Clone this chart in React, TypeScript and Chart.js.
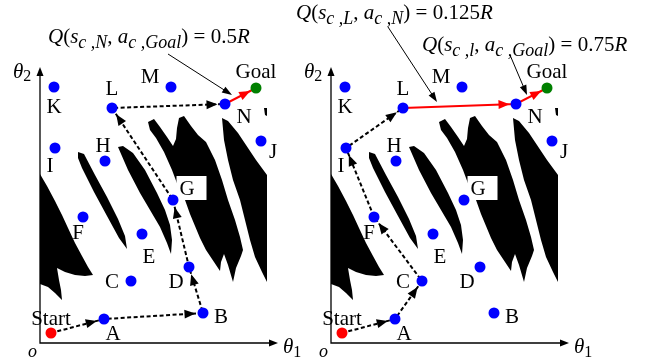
import { useEffect, useRef } from 'react';
import { Chart, registerables } from 'chart.js';

Chart.register(...registerables);

const SERIF = '"Liberation Serif", "Times New Roman", "DejaVu Serif", serif';

// Configuration-space nodes (θ1, θ2)
const nodeNames = ['Start', 'A', 'B', 'C', 'D', 'E', 'F', 'G', 'H', 'I', 'J', 'K', 'L', 'M', 'N', 'Goal'];
const nodeTheta1 = [5.5, 32, 81.5, 45.5, 74.5, 51, 21.5, 66.5, 32.5, 7.5, 110.5, 7, 36, 65.5, 92.5, 108];
const nodeTheta2 = [5, 12, 15, 31, 38, 54.5, 63, 71.5, 91, 97.5, 101, 128, 117.5, 128, 119.5, 127.5];

// Routes taken in each panel
const leftRoute = ['Start', 'A', 'B', 'D', 'G', 'L', 'N'];
const leftGreedy = ['N', 'Goal'];
const rightRoute = ['Start', 'A', 'C', 'F', 'I', 'L'];
const rightGreedy = ['L', 'N', 'Goal'];

// Obstacle regions in configuration space, as (θ1, θ2) outlines
const obstacleLeftBlade = [[0, 84.5], [3.5, 78.5], [7.5, 71], [11, 64], [14, 57.5], [17.5, 50], [21, 43.5], [24, 38], [26.5, 34], [22.5, 33.5], [17.5, 34], [12.5, 35.5], [8.5, 37.5], [9.5, 31.5], [10.5, 26.5], [11, 21.5], [7.5, 25], [4, 28], [0, 29.5]];
const obstacleThinBlade = [[19, 95.5], [22, 94.5], [27.5, 84], [33.5, 73], [39, 62], [42.5, 53.5], [43.5, 47], [39.5, 52.5], [33.5, 63.5], [27, 75.5], [21, 87.5], [19, 92.5]];
const obstacleMidBlade = [[39, 98], [41.5, 98.5], [46.5, 95], [52.5, 86.5], [58.5, 75], [62.5, 66.5], [65, 59], [66, 51.5], [65.5, 44.5], [63.5, 50], [60, 58], [55, 66.5], [50, 75], [44, 86.5]];
const obstacleBlob = [[54, 110.5], [57, 112], [60, 108], [63.5, 103], [66.5, 98.5], [68, 102], [68.5, 107.5], [69.5, 112.5], [72, 113.5], [75.5, 108.5], [79, 104], [83, 100.5], [85, 96.5], [87.5, 91.5], [91, 81.5], [94, 71.5], [97.5, 61.5], [100, 53], [101.5, 46.5], [100.5, 43.5], [98, 37.5], [96.5, 30.5], [94, 39], [92, 44.5], [90.5, 40.5], [90, 36], [87, 40.5], [83, 46.5], [80, 52.5], [77.5, 58.5], [75, 64.5], [72.5, 71.5], [69, 78.5], [66, 86.5], [62, 95.5], [58, 102.5], [55, 106.5]];
const obstacleRightBlade = [[91, 112.5], [94, 111], [99, 105], [103, 99], [108, 91.5], [113.5, 84], [113.5, 30.5], [111, 35.5], [107.5, 43], [105, 51.5], [102.5, 61.5], [100, 71.5], [96.5, 81.5], [94, 91.5], [92, 101.5]];
const obstacleEdgeNick = [[112, 117.5], [113.5, 117.5], [113.5, 113.5], [112.5, 114]];
const obstacles = [obstacleLeftBlade, obstacleThinBlade, obstacleMidBlade, obstacleBlob, obstacleRightBlade, obstacleEdgeNick];

// Q-value annotations (rich text runs: it = italic, sub = subscript)
const qLeftRuns = [
  { t: 'Q', it: true }, { t: '(' }, { t: 's', it: true }, { t: 'c ,N', it: true, sub: true },
  { t: ', ' }, { t: 'a', it: true }, { t: 'c ,Goal', it: true, sub: true }, { t: ') = 0.5' }, { t: 'R', it: true },
];
const qRightLRuns = [
  { t: 'Q', it: true }, { t: '(' }, { t: 's', it: true }, { t: 'c ,L', it: true, sub: true },
  { t: ', ' }, { t: 'a', it: true }, { t: 'c ,N', it: true, sub: true }, { t: ') = 0.125' }, { t: 'R', it: true },
];
const qRightNRuns = [
  { t: 'Q', it: true }, { t: '(' }, { t: 's', it: true }, { t: 'c ,l', it: true, sub: true },
  { t: ', ' }, { t: 'a', it: true }, { t: 'c ,Goal', it: true, sub: true }, { t: ') = 0.75' }, { t: 'R', it: true },
];

// Label placement relative to each node (pixels, text baseline)
const labelOffset: Record<string, [number, number]> = {
  Start: [0, -8], A: [9, 21], B: [18, 10], C: [-19, 7], D: [-13, 21], E: [7, 29], F: [-5, 22],
  G: [14, -5], H: [-2, -9], I: [-5, 24], J: [12, 17], K: [0, 26], L: [0, -13], M: [-21, -4],
  N: [19, 19], Goal: [0, -10],
};

const panels = [
  {
    left: 40,
    route: leftRoute,
    greedy: leftGreedy,
    notes: [{ runs: qLeftRuns, at: [4, 150], from: [64, 144.5], to: [96, 124] }],
  },
  {
    left: 331,
    route: rightRoute,
    greedy: rightGreedy,
    notes: [
      { runs: qRightLRuns, at: [-17.5, 162], from: [28.5, 158], to: [53, 120.5] },
      { runs: qRightNRuns, at: [45.5, 146], from: [89.5, 144], to: [98, 124] },
    ],
  },
];

const DOT_R = 5.5;

function pt(name: string) {
  const i = nodeNames.indexOf(name);
  return { x: nodeTheta1[i], y: nodeTheta2[i] };
}

function drawRuns(ctx: CanvasRenderingContext2D, runs: any[], x: number, y: number, size: number, subSize: number, subDy: number) {
  let cx = x;
  ctx.textAlign = 'left';
  ctx.textBaseline = 'alphabetic';
  for (const r of runs) {
    const fs = r.sub ? subSize : size;
    ctx.font = `${r.it ? 'italic ' : 'normal '}${fs}px ${SERIF}`;
    ctx.fillText(r.t, cx, y + (r.sub ? subDy : 0));
    cx += ctx.measureText(r.t).width;
  }
}

function head(ctx: CanvasRenderingContext2D, fx: number, fy: number, tx: number, ty: number, len: number, half: number, color: string) {
  const dx = tx - fx;
  const dy = ty - fy;
  const d = Math.hypot(dx, dy) || 1;
  const ux = dx / d;
  const uy = dy / d;
  const bx = tx - ux * len;
  const by = ty - uy * len;
  ctx.beginPath();
  ctx.moveTo(tx, ty);
  ctx.lineTo(bx - uy * half, by + ux * half);
  ctx.lineTo(bx + uy * half, by - ux * half);
  ctx.closePath();
  ctx.fillStyle = color;
  ctx.fill();
}

function makePanel(canvas: HTMLCanvasElement, panel: any) {
  const diagram = {
    id: 'configDiagram',
    beforeDatasetsDraw(chart: any) {
      const { ctx, chartArea: a } = chart;
      const sx = chart.scales.x;
      const sy = chart.scales.y;
      const X = (v: number) => sx.getPixelForValue(v);
      const Y = (v: number) => sy.getPixelForValue(v);
      ctx.save();
      // obstacles
      ctx.fillStyle = '#000';
      for (const poly of obstacles) {
        ctx.beginPath();
        poly.forEach(([u, v], k) => (k ? ctx.lineTo(X(u), Y(v)) : ctx.moveTo(X(u), Y(v))));
        ctx.closePath();
        ctx.fill();
      }
      // white box behind the G label
      const g = pt('G');
      ctx.fillStyle = '#fff';
      ctx.fillRect(X(g.x) + 3.5, Y(g.y) - 24, 30, 24);
      // axes with arrowheads
      ctx.strokeStyle = '#000';
      ctx.lineWidth = 1.3;
      ctx.beginPath();
      ctx.moveTo(a.left, a.top + 6);
      ctx.lineTo(a.left, a.bottom);
      ctx.lineTo(a.right - 6, a.bottom);
      ctx.stroke();
      head(ctx, a.left, a.bottom, a.left, a.top, 9, 3.5, '#000');
      head(ctx, a.left, a.bottom, a.right, a.bottom, 9, 3.5, '#000');
      ctx.restore();
    },
    afterDatasetsDraw(chart: any) {
      const { ctx, chartArea: a } = chart;
      const sx = chart.scales.x;
      const sy = chart.scales.y;
      const X = (v: number) => sx.getPixelForValue(v);
      const Y = (v: number) => sy.getPixelForValue(v);
      ctx.save();
      // arrowheads along the routes
      const heads = (route: string[], color: string, gap: number) => {
        for (let k = 1; k < route.length; k++) {
          const p = pt(route[k - 1]);
          const q = pt(route[k]);
          const px = X(p.x), py = Y(p.y), qx = X(q.x), qy = Y(q.y);
          const d = Math.hypot(qx - px, qy - py);
          const tx = qx - ((qx - px) / d) * (DOT_R + gap);
          const ty = qy - ((qy - py) / d) * (DOT_R + gap);
          head(ctx, px, py, tx, ty, 11, 4.5, color);
        }
      };
      heads(panel.route, '#000', 2);
      heads(panel.greedy, '#ff0000', 1);

      // node labels
      ctx.fillStyle = '#000';
      ctx.font = `normal 21px ${SERIF}`;
      ctx.textAlign = 'center';
      ctx.textBaseline = 'alphabetic';
      nodeNames.forEach((n, i) => {
        const [dx, dy] = labelOffset[n];
        ctx.fillText(n, X(nodeTheta1[i]) + dx, Y(nodeTheta2[i]) + dy);
      });

      // Q-value annotations with leader arrows
      for (const note of panel.notes) {
        ctx.fillStyle = '#000';
        drawRuns(ctx, note.runs, X(note.at[0]), Y(note.at[1]), 21, 18, 5);
        const fx = X(note.from[0]), fy = Y(note.from[1]);
        const tx = X(note.to[0]), ty = Y(note.to[1]);
        const d = Math.hypot(tx - fx, ty - fy);
        ctx.strokeStyle = '#000';
        ctx.lineWidth = 1;
        ctx.setLineDash([]);
        ctx.beginPath();
        ctx.moveTo(fx, fy);
        ctx.lineTo(tx - ((tx - fx) / d) * 6, ty - ((ty - fy) / d) * 6);
        ctx.stroke();
        head(ctx, fx, fy, tx, ty, 10, 3.5, '#000');
      }

      // axis titles
      ctx.fillStyle = '#000';
      drawRuns(ctx, [{ t: 'θ', it: true }, { t: '2', sub: true }], a.left - 27, a.top + 11, 21, 16, 3);
      drawRuns(ctx, [{ t: 'θ', it: true }, { t: '1', sub: true }], a.right + 5, a.bottom + 10, 21, 16, 4);
      drawRuns(ctx, [{ t: 'o', it: true }], a.left - 12, a.bottom + 14, 18, 18, 0);
      ctx.restore();
    },
  };

  const dot = (data: any[], color: string) => ({
    data,
    backgroundColor: color,
    borderColor: color,
    borderWidth: 0,
    pointRadius: DOT_R,
    showLine: false,
    order: 0,
    clip: false,
  });

  return new Chart(canvas, {
    type: 'scatter',
    data: {
      datasets: [
        dot(nodeNames.filter((n) => n !== 'Start' && n !== 'Goal').map(pt), '#0000ff'),
        dot([pt('Start')], '#ff0000'),
        dot([pt('Goal')], '#008000'),
        {
          data: panel.route.map(pt),
          showLine: true,
          borderColor: '#000',
          borderWidth: 2,
          borderDash: [4, 2.5],
          pointRadius: 0,
          order: 2,
          clip: false,
        },
        {
          data: panel.greedy.map(pt),
          showLine: true,
          borderColor: '#ff0000',
          borderWidth: 2,
          pointRadius: 0,
          order: 2,
          clip: false,
        },
      ],
    },
    options: {
      responsive: false,
      animation: false,
      devicePixelRatio: 1,
      events: [],
      layout: { padding: { left: panel.left, right: 650 - panel.left - 238, top: 67, bottom: 18 } },
      scales: {
        x: { type: 'linear', min: 0, max: 119, display: false },
        y: { type: 'linear', min: 0, max: 138, display: false },
      },
      plugins: { legend: { display: false }, tooltip: { enabled: false } },
    },
    plugins: [diagram],
  } as any);
}

export default function App() {
  const leftRef = useRef<HTMLCanvasElement | null>(null);
  const rightRef = useRef<HTMLCanvasElement | null>(null);

  useEffect(() => {
    const charts = [makePanel(leftRef.current!, panels[0]), makePanel(rightRef.current!, panels[1])];
    let alive = true;
    // repaint once the serif faces are ready so labels use them
    Promise.all([
      document.fonts.load(`21px "Liberation Serif"`),
      document.fonts.load(`italic 21px "Liberation Serif"`),
    ])
      .catch(() => undefined)
      .then(() => {
        if (alive) charts.forEach((c) => c.draw());
      });
    return () => {
      alive = false;
      charts.forEach((c) => c.destroy());
    };
  }, []);

  const canvasStyle = { position: 'absolute' as const, left: 0, top: 0, width: 650, height: 361 };
  return (
    <div style={{ position: 'fixed', left: 0, top: 0, width: 650, height: 361, background: '#fff', fontFamily: SERIF }}>
      <span style={{ position: 'absolute', left: -9999, fontStyle: 'italic' }}>θ</span>
      <canvas ref={leftRef} width={650} height={361} style={canvasStyle} />
      <canvas ref={rightRef} width={650} height={361} style={canvasStyle} />
    </div>
  );
}
